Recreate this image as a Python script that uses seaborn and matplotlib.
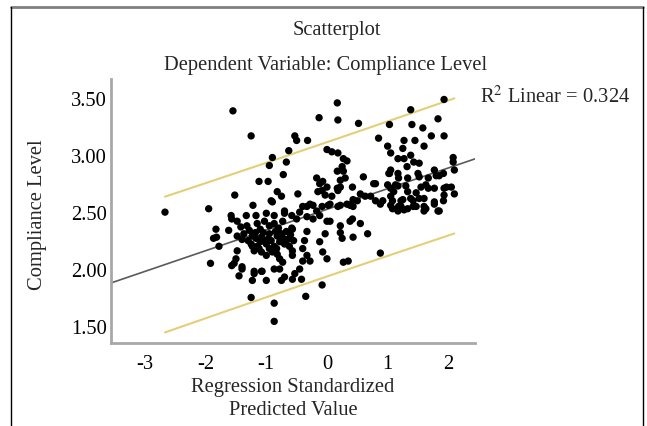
import numpy as np
import pandas as pd
import matplotlib
matplotlib.use("Agg")
import matplotlib.pyplot as plt
from matplotlib.lines import Line2D
import seaborn as sns

# ---- data (standardized predicted value, compliance level) ----
left_x = [-2.67, -1.95, -1.55, -1.25, -1.52, -1.22, -1.12, -0.97, -0.90, -0.95, -0.63, -0.53, -0.50,
          -0.67, -0.72, -0.82, -0.75, -0.90, -0.48, -0.92,
          -1.83, -1.87, -1.92, -1.78, -1.62, -1.57, -1.48, -1.50, -1.57, -1.40, -1.45, -1.23, -1.20,
          -1.08, -1.00, -1.25, -0.87, -0.87, -0.78, -0.70, -0.57, -0.78, -0.57, -1.00, -0.90, -1.12, -1.23,
          -1.58, -1.48, -1.33, -1.17, -1.00, -0.87, -0.70, -1.42, -1.32, -1.15, -1.03, -0.87, -0.73,
          -1.48, -1.37, -1.23, -1.08, -0.95, -0.82, -0.67, -1.25, -1.15, -1.00, -0.87, -0.70, -1.20,
          -1.08, -0.82, -0.73, -1.53, -1.40, -1.20, -1.07, -0.87, -0.75, -1.82,
          -1.10, -0.95, -0.80, -1.05, -0.92, -0.78, -0.62, -0.60, -0.65, -1.28, -1.18, -0.98, -0.85,
          -1.10, -1.40, -0.75, -0.62, -0.58, -0.55,
          -1.30, -1.05, -0.95, -0.72, -1.17, -0.83]
left_y = [2.50, 2.53, 3.39, 3.17, 2.65, 2.56, 2.77, 2.77, 2.98, 2.91, 3.04, 3.17, 3.13,
          2.94, 2.83, 2.68, 2.64, 2.59, 2.66, 2.60,
          2.35, 2.27, 2.05, 2.20, 2.34, 2.44, 2.16, 2.09, 2.03, 2.00, 1.94, 1.90, 1.98,
          1.98, 1.90, 1.75, 1.70, 1.54, 2.00, 1.93, 1.91, 2.09, 2.12, 2.12, 2.15, 2.18, 2.20,
          2.47, 2.42, 2.47, 2.47, 2.49, 2.47, 2.49, 2.37, 2.38, 2.40, 2.42, 2.40, 2.42,
          2.29, 2.31, 2.29, 2.28, 2.31, 2.29, 2.33, 2.22, 2.20, 2.22, 2.20, 2.22, 2.16,
          2.15, 2.13, 2.06, 2.05, 2.02, 1.96, 1.98, 2.00, 1.90, 2.28,
          2.35, 2.38, 2.36, 2.25, 2.25, 2.24, 2.27, 2.30, 2.26, 2.34, 2.32, 2.26, 2.33,
          2.24, 2.26, 2.31, 2.20, 2.36, 2.25,
          2.25, 2.32, 2.18, 2.27, 2.27, 2.18]

mid_x = [0.05, 0.22, 0.38, 0.55, -0.03, 0.22, 0.67, 0.25, 0.43, -0.12, -0.37, -0.07, 0.00, 0.27,
         0.35, 0.88, -0.08, -0.35, -0.40, -0.33, -0.45, -0.42, -0.53, -0.28, -0.57, -0.40, -0.33,
         -0.57, -0.50,
         0.17, -0.13, 0.18, 0.52, -0.32, 0.00, 0.08, 0.18, 0.27, 0.33, 0.25, 0.27, 0.17, 0.30, 0.22,
         -0.17, -0.07, -0.12, 0.00, 0.17, 0.22, 0.42, 0.60, 0.77, -0.15, -0.08, -0.03, 0.08, 0.18,
         0.43, 0.55, 0.63, 0.72, 0.50, 0.80, -0.33, -0.23, -0.08, 0.02, 0.18, 0.33, 0.43, 0.05,
         -0.70, -0.58, -0.45, -0.33, -0.23, -0.12, 0.00, 0.42, 0.22, 0.38, -0.40, -0.28, -0.17]
mid_y = [2.42, 2.38, 2.42, 2.40, 2.31, 2.32, 2.31, 2.27, 2.28, 2.24, 2.25, 2.15, 2.09, 2.06,
         2.07, 2.14, 1.86, 1.76, 2.07, 2.12, 2.00, 1.91, 1.96, 2.07, 2.16, 2.18, 2.33,
         2.35, 2.44,
         3.46, 3.33, 3.31, 3.28, 3.13, 3.05, 3.03, 3.02, 2.97, 2.95, 2.90, 2.86, 2.86, 2.80, 2.78,
         2.80, 2.77, 2.75, 2.72, 2.71, 2.72, 2.72, 2.81, 2.75, 2.68, 2.69, 2.65, 2.64, 2.69,
         2.61, 2.66, 2.64, 2.64, 2.60, 2.60, 2.55, 2.56, 2.55, 2.56, 2.55, 2.57, 2.55, 2.57,
         2.51, 2.47, 2.50, 2.46, 2.44, 2.47, 2.42, 2.44, 2.56, 2.56, 2.55, 2.57, 2.51]

right_x = [1.93, 1.38, 1.03, 1.40, 1.83, 1.58, 1.72, 1.93, 0.85, 1.00, 1.27, 1.45, 1.60, 1.25,
           1.05, 1.17, 1.27, 1.38, 1.43, 1.52, 1.32, 2.08, 2.08, 2.10, 1.77, 1.85, 1.05, 1.03,
           1.17, 1.18, 1.33, 1.52, 1.67, 1.92, 1.00, 1.05, 1.17, 1.30, 1.33, 1.55, 1.67, 1.77,
           1.93, 2.05, 2.10, 1.93, 1.05, 1.22, 1.38, 1.60, 1.77, 0.88, 1.05, 1.22, 1.42, 1.60,
           1.17, 1.27, 1.60, 1.83, 0.92, 1.08, 1.25, 1.42, 1.52, 1.77, 1.92, 1.08, 1.18, 1.33,
           1.47, 1.63, 1.85, 1.80, 1.97, 1.50, 1.13, 1.63, 1.47, 1.10, 0.80, 1.02]
right_y = [3.49, 3.40, 3.27, 3.27, 3.32, 3.24, 3.17, 3.17, 3.15, 3.08, 3.13, 3.13, 3.08, 3.06,
           3.02, 2.97, 2.97, 3.00, 2.94, 2.93, 2.90, 2.98, 2.94, 2.87, 2.87, 2.82, 2.87, 2.84,
           2.84, 2.80, 2.80, 2.81, 2.80, 2.84, 2.74, 2.71, 2.73, 2.73, 2.68, 2.72, 2.71, 2.71,
           2.71, 2.72, 2.66, 2.65, 2.64, 2.60, 2.62, 2.62, 2.57, 2.57, 2.56, 2.55, 2.55, 2.55,
           2.51, 2.52, 2.51, 2.51, 2.60, 2.60, 2.61, 2.60, 2.62, 2.59, 2.60, 2.53, 2.55, 2.53,
           2.55, 2.53, 2.51, 2.82, 2.72, 2.84, 2.74, 2.74, 2.67, 2.68, 2.75, 2.84]

x_ticks = [-3, -2, -1, 0, 1, 2]
y_ticks = [1.50, 2.00, 2.50, 3.00, 3.50]
r2_text = "0.324"

title_1 = "Scatterplot"
title_2 = "Dependent Variable: Compliance Level"
x_title = "Regression Standardized\nPredicted Value"
y_title = "Compliance Level"

# ---- build table ----
df = pd.DataFrame({
    "pred": left_x + mid_x + right_x,
    "comp": left_y + mid_y + right_y,
})

sns.set_style("white")
plt.rcParams["font.family"] = ["Liberation Serif", "DejaVu Serif"]
plt.rcParams["mathtext.fontset"] = "stix"

W, H = 647, 427
fig = plt.figure(figsize=(W / 100, H / 100), dpi=100)
ax = fig.add_axes([111 / W, (H - 344) / H, (475 - 111) / W, (344 - 80) / H])

xlim = (-3.56, 2.44)
ylim = (1.35, 3.67)

sns.scatterplot(data=df, x="pred", y="comp", ax=ax, color="black", s=28,
                edgecolor="none", zorder=3)

# regression fit and individual prediction interval, computed from the points
x = df["pred"].to_numpy()
y = df["comp"].to_numpy()
n = len(x)
slope, intercept = np.polyfit(x, y, 1)
resid = y - (intercept + slope * x)
s_err = np.sqrt(np.sum(resid ** 2) / (n - 2))
sxx = np.sum((x - x.mean()) ** 2)
t_crit = 1.969

fit_x = np.linspace(xlim[0], xlim[1], 50)
ax.plot(fit_x, intercept + slope * fit_x, color="#5a5a5a", lw=1.2, zorder=2)

pi_x = np.linspace(x.min(), x.max(), 50)
half = t_crit * s_err * np.sqrt(1 + 1 / n + (pi_x - x.mean()) ** 2 / sxx)
ax.plot(pi_x, intercept + slope * pi_x + half, color="#E3CF78", lw=1.5, zorder=2)
ax.plot(pi_x, intercept + slope * pi_x - half, color="#E3CF78", lw=1.5, zorder=2)

ax.set_xlim(*xlim)
ax.set_ylim(*ylim)
ax.set_xticks(x_ticks)
ax.set_xticklabels([f"{v:d}" for v in x_ticks])
ax.set_yticks(y_ticks)
ax.set_yticklabels([f"{v:.2f}" for v in y_ticks])
ax.tick_params(axis="both", length=0, labelsize=14.8, colors="black")
ax.tick_params(axis="x", pad=8)
ax.tick_params(axis="y", pad=3)
for side in ["top", "right"]:
    ax.spines[side].set_visible(False)
for side in ["left", "bottom"]:
    ax.spines[side].set_color("#a8a8a8")
    ax.spines[side].set_linewidth(2)
ax.set_xlabel("")
ax.set_ylabel("")

fs = 14.8
fig.text(337 / W, 1 - 31 / H, title_1, ha="center", va="center", fontsize=fs)
fig.text(326 / W, 1 - 66 / H, title_2, ha="center", va="center", fontsize=fs)
fig.text(293 / W, 1 - 399 / H, x_title, ha="center", va="center", fontsize=fs,
         linespacing=1.3)
fig.text(38 / W, 1 - 215 / H, y_title, ha="center", va="center", rotation=90, fontsize=fs)
fig.text(480 / W, 1 - 97 / H, r"R$^{\mathrm{2}}$ Linear = " + r2_text, ha="left",
         va="center", fontsize=fs)

# outer frame
fig.add_artist(Line2D([11 / W, 643 / W], [1 - 8 / H, 1 - 8 / H], color="#808080", lw=2,
                      transform=fig.transFigure))
fig.add_artist(Line2D([11 / W, 11 / W], [0, 1 - 8 / H], color="black", lw=1,
                      transform=fig.transFigure))
fig.add_artist(Line2D([643 / W, 643 / W], [0, 1 - 8 / H], color="black", lw=1,
                      transform=fig.transFigure))

fig.savefig("out.png", dpi=100)
